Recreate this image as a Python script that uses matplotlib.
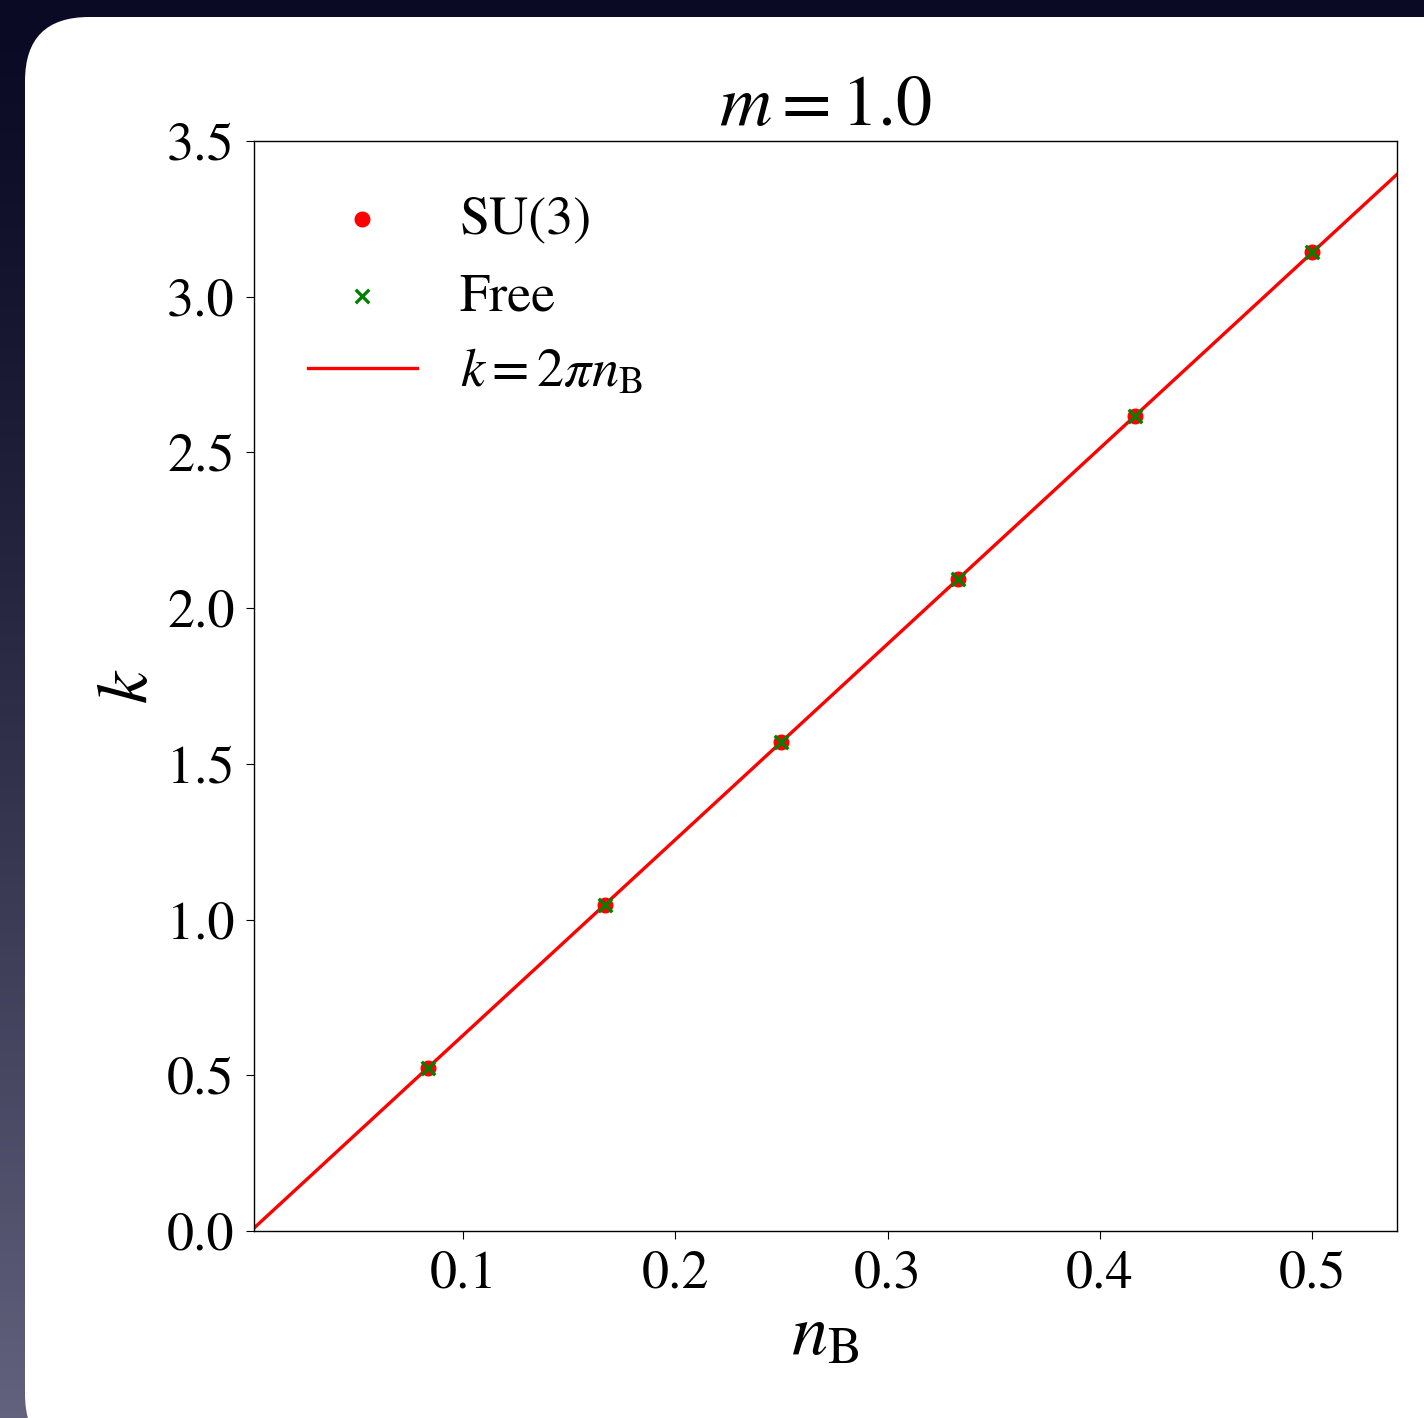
import numpy as np
import matplotlib
matplotlib.use("Agg")
import matplotlib.pyplot as plt
from matplotlib.patches import FancyBboxPatch

# datos: n_B y k (SU(3) y libre)
n_B = [1/12, 2/12, 3/12, 4/12, 5/12, 6/12]
k_su3 = [0.524, 1.047, 1.571, 2.094, 2.618, 3.142]
k_free = [0.524, 1.047, 1.571, 2.094, 2.618, 3.142]
x_line = [0.0, 0.54]
x_ticks = [0.1, 0.2, 0.3, 0.4, 0.5]
y_ticks = [0.0, 0.5, 1.0, 1.5, 2.0, 2.5, 3.0, 3.5]

plt.rcParams["font.family"] = ["STIXGeneral", "DejaVu Serif"]
plt.rcParams["mathtext.fontset"] = "stix"

W, H = 1424, 1418
fig = plt.figure(figsize=(W / 100, H / 100), dpi=100)

# fondo degradado oscuro
bg = fig.add_axes([0, 0, 1, 1])
bg.set_axis_off()
top = np.array([0x0a, 0x0a, 0x24]) / 255
bot = np.array([0x62, 0x62, 0x7e]) / 255
t = np.linspace(0, 1, 256)[:, None]
grad = top[None, :] * (1 - t ** 1.3) + bot[None, :] * t ** 1.3
img = np.repeat(grad[:, None, :], 2, axis=1)
bg.imshow(img, aspect="auto", extent=[0, 1, 0, 1], origin="upper")
bg.set_xlim(0, 1)
bg.set_ylim(0, 1)

# tarjeta blanca con esquinas redondeadas
card = FancyBboxPatch((25 / W, -40 / H), 1480 / W, (H - 17 + 40) / H,
                      boxstyle="round,pad=0,rounding_size=0.045",
                      transform=bg.transAxes, facecolor="white",
                      edgecolor="none", mutation_aspect=W / H)
bg.add_patch(card)

ax = fig.add_axes([254 / W, 1 - 1231 / H, (1397 - 254) / W, (1231 - 141) / H])
ax.plot(x_line, [2 * np.pi * v for v in x_line], color="red", lw=2.4,
        label=r"$k = 2\pi n_{\rm B}$", zorder=2)
ax.scatter(n_B, k_su3, color="red", s=110, label="SU(3)", zorder=3)
ax.scatter(n_B, k_free, color="green", marker="x", s=95, linewidths=2.4,
           label="Free", zorder=4)

ax.set_xlim(0.0015, 0.54)
ax.set_ylim(0, 3.5)
ax.set_xticks(x_ticks)
ax.set_yticks(y_ticks)
ax.tick_params(labelsize=39, length=6, pad=8)
for s in ax.spines.values():
    s.set_linewidth(1.0)

ax.set_title(r"$m = 1.0$", fontsize=52, pad=8)
ax.set_xlabel(r"$n_{\rm B}$", fontsize=52, labelpad=4)
ax.set_ylabel(r"$k$", fontsize=52, labelpad=3)

handles, labels = ax.get_legend_handles_labels()
order = [1, 2, 0]
ax.legend([handles[i] for i in order], [labels[i] for i in order],
          loc="upper left", frameon=False, fontsize=39,
          borderaxespad=0.6, labelspacing=0.5, handletextpad=0.8)

fig.savefig("out.png", dpi=100)
